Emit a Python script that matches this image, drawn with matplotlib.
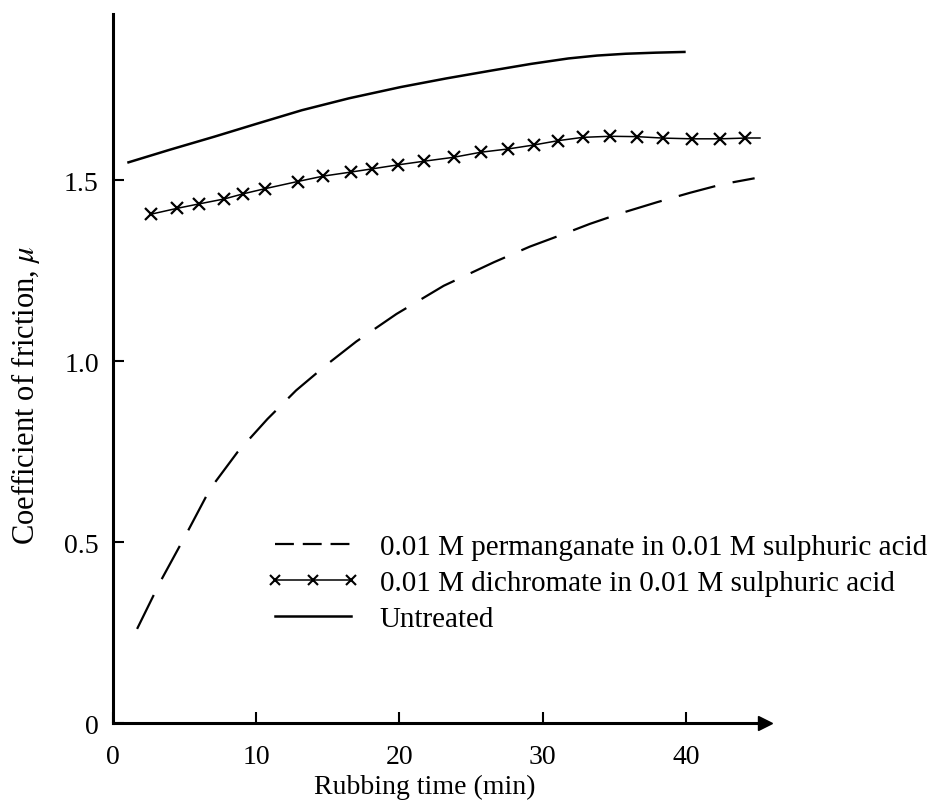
import numpy as np
import matplotlib
matplotlib.use("Agg")
import matplotlib.pyplot as plt
from matplotlib.lines import Line2D

plt.rcParams["font.family"] = ["Liberation Serif", "DejaVu Serif"]
plt.rcParams["mathtext.fontset"] = "stix"

# permanganate (dashed)
perm_t = [1.7, 3.3, 5.2, 6.8, 8.7, 10.8, 12.8, 14.9, 17.0, 19.8, 23.1, 26.6,
          29.1, 31.0, 33.3, 35.6, 38.0, 40.3, 42.6, 44.8]
perm_mu = [0.261, 0.39, 0.528, 0.648, 0.749, 0.841, 0.92, 0.99, 1.055,
           1.131, 1.209, 1.274, 1.317, 1.345, 1.38, 1.411, 1.44, 1.466, 1.49,
           1.506]

# dichromate (x markers)
dich_t = [2.7, 4.5, 6.0, 7.8, 9.1, 10.6, 12.9, 14.7, 16.6, 18.1, 19.9, 21.7,
          23.8, 25.7, 27.6, 29.4, 31.1, 32.8, 34.7, 36.6, 38.4, 40.4, 42.4, 44.1]
dich_mu = [1.407, 1.423, 1.435, 1.449, 1.463, 1.477, 1.497, 1.512, 1.523,
           1.532, 1.543, 1.553, 1.564, 1.578, 1.587, 1.598, 1.61, 1.619, 1.622,
           1.621, 1.617, 1.615, 1.615, 1.617]
dich_end_t = [44.1, 45.2]
dich_end_mu = [1.617, 1.617]

# untreated (solid)
untr_t = [1.1, 4.0, 7.1, 10.0, 13.2, 16.5, 20.1, 23.3, 26.5, 29.2, 31.8, 33.8,
          35.8, 37.9, 39.9]
untr_mu = [1.55, 1.585, 1.621, 1.656, 1.694, 1.727, 1.758, 1.782, 1.804, 1.822,
           1.837, 1.845, 1.85, 1.853, 1.855]

labels = ["0.01 M permanganate in 0.01 M sulphuric acid",
          "0.01 M dichromate in 0.01 M sulphuric acid",
          "Untreated"]

fig = plt.figure(figsize=(9.34, 8.03), dpi=100)
ax = fig.add_axes([0.1207, 0.0979, 0.698, 0.8835])

ax.plot(perm_t, perm_mu, color="black", lw=1.6, dashes=(17, 8))
ax.plot(dich_t, dich_mu, color="black", lw=1.1, marker="x", ms=8, mew=1.6)
ax.plot(dich_end_t, dich_end_mu, color="black", lw=1.1)
ax.plot(untr_t, untr_mu, color="black", lw=1.8)

ax.set_xlim(0, 45.5)
ax.set_ylim(0, 1.96)
for s in ["top", "right"]:
    ax.spines[s].set_visible(False)
for s in ["left", "bottom"]:
    ax.spines[s].set_linewidth(2.2)

ax.plot(1, 0, ">k", ms=10, transform=ax.get_yaxis_transform(), clip_on=False)

ax.set_xticks([0, 10, 20, 30, 40])
ax.set_xticklabels(["0", "10", "20", "30", "40"])
ax.set_yticks([0, 0.5, 1.0, 1.5])
ax.set_yticklabels(["0", "0.5", "1.0", "1.5"])
ax.tick_params(axis="both", direction="in", length=8, width=1.5, labelsize=20)
ax.tick_params(axis="x", pad=15)
ax.tick_params(axis="y", pad=10)

ax.set_xlabel("Rubbing time (min)", fontsize=20)
ax.set_ylabel("Coefficient of friction, $\\mu$", fontsize=22)
ax.xaxis.set_label_coords(0.479, -0.0705)
ax.yaxis.set_label_coords(-0.108, 0.464)

handles = [
    Line2D([], [], color="black", lw=1.6, linestyle=(0, (8.5, 4.0))),
    Line2D([], [], color="black", lw=1.1, marker="x", ms=7, mew=1.5),
    Line2D([], [], color="black", lw=1.8),
]
fig.legend(handles, labels, loc="upper left",
           bbox_to_anchor=(266 / 934, 1 - 535 / 803),
           frameon=False, fontsize=21, numpoints=3, handlelength=3.2,
           handletextpad=0.7, labelspacing=0.32, borderpad=0, borderaxespad=0)

fig.savefig("out.png", dpi=100)
